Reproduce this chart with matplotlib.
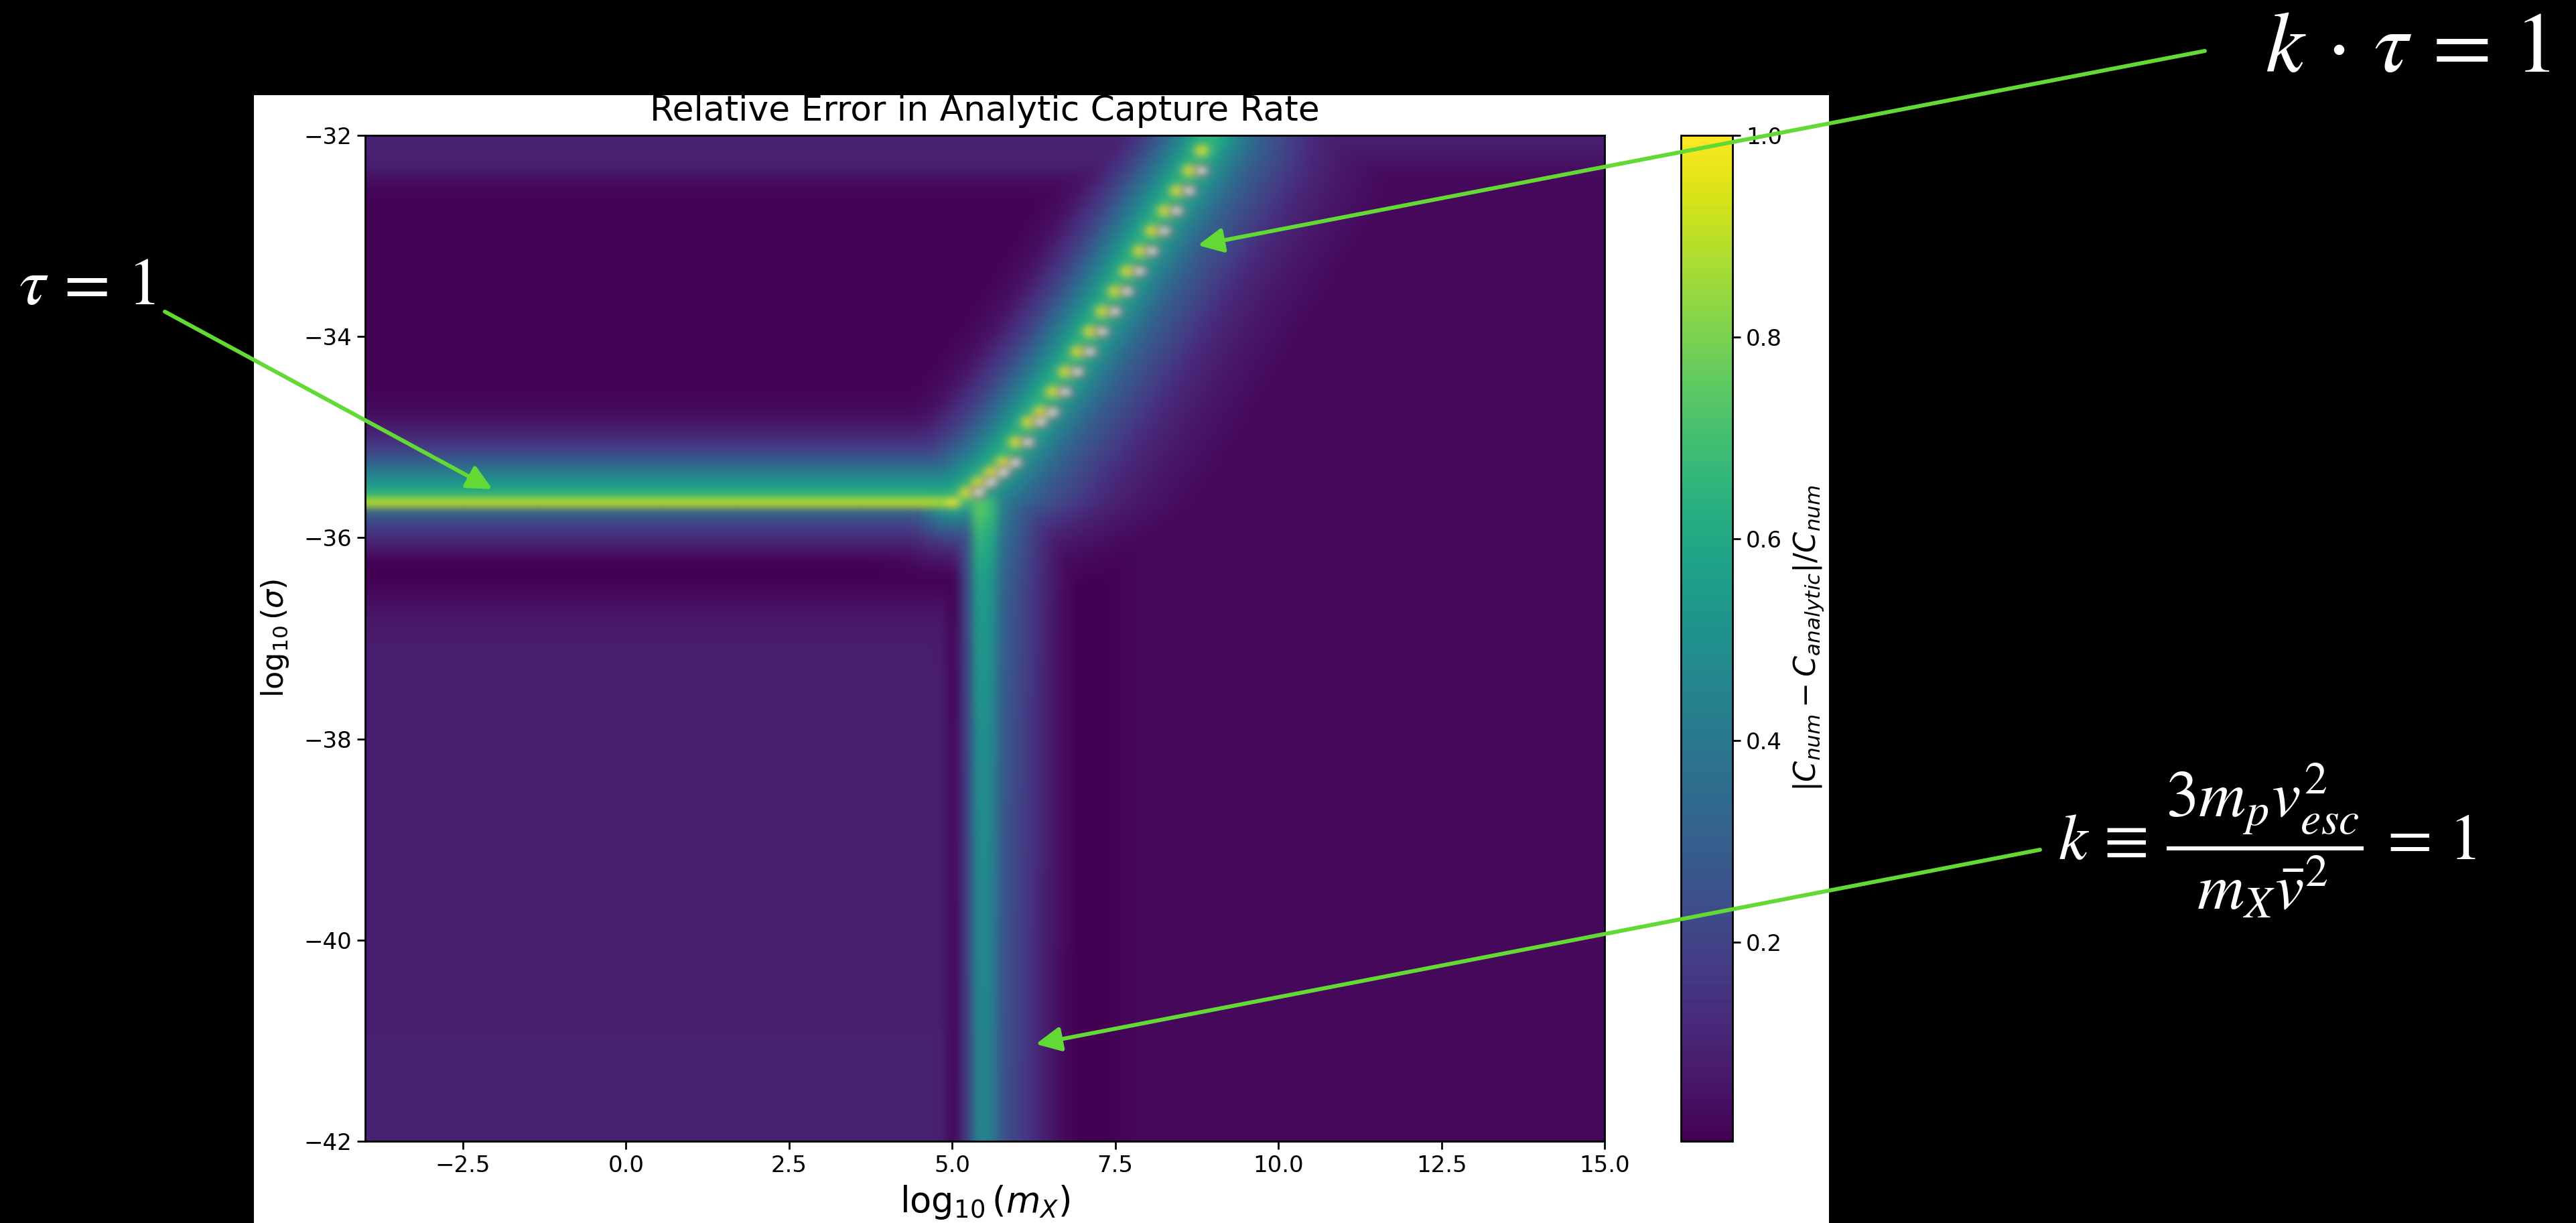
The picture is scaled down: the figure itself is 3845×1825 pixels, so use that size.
import numpy as np
import matplotlib
matplotlib.use('Agg')
import matplotlib.pyplot as plt
from matplotlib.patches import Rectangle, FancyArrowPatch

W, H = 3845, 1825

# scan grid (log10 mass x log10 sigma)
n_mass, n_sigma = 100, 100
mass_lim = (-4.0, 15.0)
sigma_lim = (-42.0, -32.0)

# column left of the k=1 line: tau=1 ridge and its halo
tau_sig = [-42.0, -38.0, -37.2, -36.95, -36.75, -36.55, -36.45, -36.35, -36.25, -36.15,
           -36.05, -35.95, -35.85, -35.75, -35.65, -35.55, -35.45, -35.35, -35.25, -35.15,
           -35.05, -34.95, -34.85, -34.75, -34.65, -34.55, -34.3, -32.65, -32.55, -32.45,
           -32.35, -32.25, -32.0]
tau_val = [0.09, 0.085, 0.08, 0.075, 0.06, 0.03, 0.01, 0.0, 0.01, 0.05,
           0.10, 0.15, 0.22, 0.30, 0.90, 0.62, 0.52, 0.42, 0.31, 0.22,
           0.15, 0.10, 0.06, 0.035, 0.02, 0.012, 0.008, 0.008, 0.02, 0.04,
           0.07, 0.09, 0.10]

# background right of the lines
right_sig = [-42.0, -32.45, -32.3, -32.2, -32.0]
right_val = [0.025, 0.025, 0.04, 0.07, 0.085]
lowr_x = [5.06, 6.6, 7.0, 7.4, 7.9]
lowr_f = [0.0, 0.0, 0.2, 0.2, 1.0]

# k = 1 vertical line
strip_x = 5.06
k1_x = [5.06, 5.215, 5.405, 5.595, 5.785, 5.975, 6.165, 6.355, 6.545, 6.735, 6.925]
k1_val = [0.0, 0.2, 0.55, 0.50, 0.30, 0.24, 0.18, 0.12, 0.07, 0.03, 0.0]
k1_amp_sig = [-42.0, -40.0, -38.0, -36.5, -36.0, -35.75]
k1_amp = [0.42, 0.44, 0.47, 0.52, 0.60, 0.68]

# k*tau = 1 ridge
junc_sig = -35.7
diag_x = [5.03, 5.61, 5.99, 6.76, 7.34, 8.09, 8.69, 8.88, 8.97]
diag_y = [-35.65, -35.34, -35.04, -34.33, -33.73, -32.91, -32.32, -32.09, -32.0]
diag_off = [-180, -125, -80, -42, -22, 0, 17, 35, 63, 85, 119, 151, 196, 250, 320, 390]
diag_val = [0.0, 0.05, 0.20, 0.42, 0.56, 0.68, 0.60, 0.47, 0.34, 0.27, 0.19, 0.12, 0.07, 0.035, 0.012, 0.0]
diag_peak = 1.0

fig = plt.figure(figsize=(W / 100, H / 100), dpi=100, facecolor='black')
fig.add_artist(Rectangle((379 / W, 0), (2730 - 379) / W, (H - 142) / H,
                         transform=fig.transFigure, facecolor='white',
                         edgecolor='none', zorder=-5))

ax = fig.add_axes([545 / W, (H - 1703) / H, 1850 / W, 1501 / H])
cax = fig.add_axes([2509 / W, (H - 1703) / H, 77 / W, 1501 / H])
ax.set_xlim(*mass_lim)
ax.set_ylim(*sigma_lim)

# cell centres
dm = (mass_lim[1] - mass_lim[0]) / n_mass
ds = (sigma_lim[1] - sigma_lim[0]) / n_sigma
xc = mass_lim[0] + dm * (np.arange(n_mass) + 0.5)
yc = sigma_lim[0] + ds * (np.arange(n_sigma) + 0.5)
X, Y = np.meshgrid(xc, yc)

below = Y < junc_sig
Lv = np.interp(Y, tau_sig, tau_val)
Rv = np.interp(Y, right_sig, right_val)
Rb = np.where(below, Rv * np.interp(X, lowr_x, lowr_f), Rv)
xb = np.where(below, strip_x, np.interp(Y, diag_y, diag_x))
wl = np.clip((xb - X) / 0.2, 0, 1)
base = Lv * wl + Rb * (1 - wl)

# vertical line
amp = np.interp(Y, k1_amp_sig, k1_amp) / 0.5
taper_v = np.clip(1 - (Y - junc_sig - 0.1) / 0.2, 0, 1)
V = amp * np.interp(X, k1_x, k1_val, left=0, right=0) * taper_v

# diagonal ridge, distance measured on screen
pts = ax.transData.transform(np.column_stack([X.ravel(), Y.ravel()]))
line = ax.transData.transform(np.column_stack([diag_x, diag_y]))
best = np.full(len(pts), np.inf)
for a, b in zip(line[:-1], line[1:]):
    d = b - a
    t = np.clip(((pts - a) @ d) / (d @ d), 0, 1)
    proj = a + t[:, None] * d
    best = np.minimum(best, np.hypot(*(pts - proj).T))
dist = best.reshape(X.shape)
side = np.where(X >= np.interp(Y, diag_y, diag_x), 1.0, -1.0)
taper_d = np.clip(1 - (diag_y[0] - Y) / 0.9, 0, 1)
D = np.interp(side * dist, diag_off, diag_val, left=0, right=0) * taper_d

err = np.maximum(np.maximum(base, V), D)

# bright cells along the ridge, the analytic rate breaks down right next to them
ridge_cells = []
for i, x in enumerate(xc):
    if diag_x[0] - 0.01 <= x <= diag_x[-1]:
        j = int(round((np.interp(x, diag_x, diag_y) - sigma_lim[0]) / ds - 0.5))
        ridge_cells.append((j, i))
for j, i in ridge_cells:
    err[j, i] = diag_peak
for j, i in ridge_cells[1:-1]:
    if (j, i + 1) not in ridge_cells:
        err[j, i + 1] = np.nan

im = ax.imshow(err, cmap='viridis', vmin=0.003, vmax=1.0, origin='lower',
               extent=[*mass_lim, *sigma_lim], aspect='auto',
               interpolation='gaussian', interpolation_stage='rgba')

ax.set_xticks(np.arange(-2.5, 15.1, 2.5))
ax.set_yticks(np.arange(-42, -31, 2))
ax.tick_params(labelsize=24.5, length=8.5, width=2, pad=6)
for s in ax.spines.values():
    s.set_linewidth(2)
ax.set_title('Relative Error in Analytic Capture Rate', fontsize=37.4, pad=16)
ax.set_xlabel(r'$\log_{10}(m_X)$', fontsize=38, labelpad=7)
ax.set_ylabel(r'$\log_{10}(\sigma)$', fontsize=32, labelpad=14)

cb = fig.colorbar(im, cax=cax, ticks=[0.2, 0.4, 0.6, 0.8, 1.0])
cb.ax.tick_params(labelsize=24.5, length=8.5, width=2, pad=6)
cb.outline.set_linewidth(2)
cb.set_label(r'$|C_{num} - C_{analytic}|/C_{num}$', fontsize=32, labelpad=10)

# slide annotations
fig.text(28 / W, (H - 454) / H, r'$\tau\,=\,1$', color='white', fontsize=72,
         math_fontfamily='stix', ha='left', va='baseline')
fig.text(3381 / W, (H - 107) / H, r'$k\,\cdot\,\tau\,=\,1$', color='white', fontsize=93,
         math_fontfamily='stix', ha='left', va='baseline')
fig.text(3072 / W, (H - 1254) / H,
         r'$k\,\equiv\,\dfrac{3m_p v_{esc}^2}{m_X \bar{v}^2}\,=\,1$', color='white',
         fontsize=70, math_fontfamily='stix', ha='left', va='center')

arrows = [((246, 465), (735, 730)),
          ((3291, 76), (1788, 366)),
          ((3045, 1268), (1546, 1558))]
for (x0, y0), (x1, y1) in arrows:
    fig.add_artist(FancyArrowPatch((x0 / W, (H - y0) / H), (x1 / W, (H - y1) / H),
                                   transform=fig.transFigure,
                                   arrowstyle='-|>,head_length=0.45,head_width=0.22',
                                   mutation_scale=50, color='#62d934', lw=4.3,
                                   shrinkA=0, shrinkB=0, zorder=10))

fig.savefig('out.png', dpi=100, facecolor='black')
